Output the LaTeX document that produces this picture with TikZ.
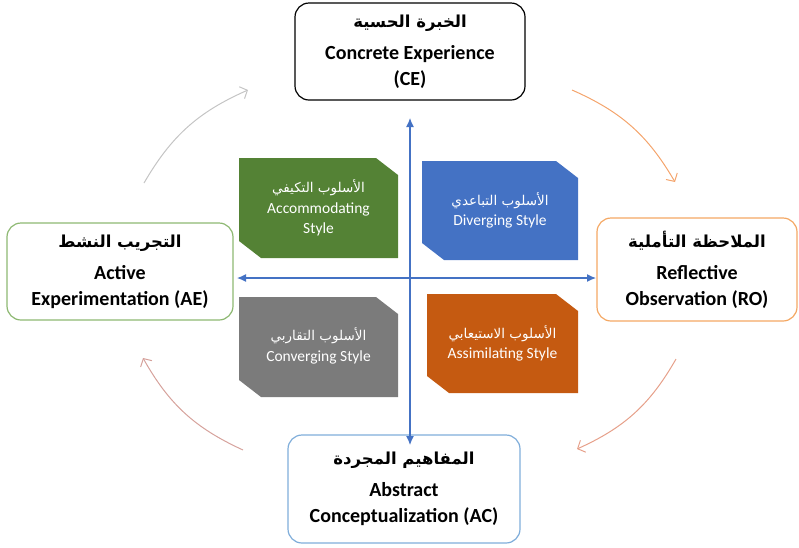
\documentclass[tikz,border=0pt]{standalone}
\usepackage{fontspec}
\setmainfont{Carlito}
\newfontfamily\arabicfont[Script=Arabic]{DejaVu Sans}
\TeXXeTstate=1
\usetikzlibrary{arrows.meta}
\definecolor{cAxis}{HTML}{4472C4}
\definecolor{cGreen}{HTML}{548235}
\definecolor{cBlue}{HTML}{4472C4}
\definecolor{cGray}{HTML}{7B7B7B}
\definecolor{cOrange}{HTML}{C55A11}
\definecolor{cAEline}{HTML}{8DB872}
\definecolor{cROline}{HTML}{F4A864}
\definecolor{cACline}{HTML}{7FADDA}
\definecolor{cArcA}{HTML}{C4C4C4}
\definecolor{cArcB}{HTML}{F4A46C}
\definecolor{cArcC}{HTML}{E6A08A}
\definecolor{cArcD}{HTML}{D6A29C}
\newcommand{\arb}[1]{{\arabicfont\beginR #1\endR}}
\newcommand{\arbtitle}[1]{{\fontsize{16.5}{22}\selectfont\arb{#1}}}
\newcommand{\arbsmall}[1]{{\fontsize{13.5}{20}\selectfont\arb{#1}}}
\newcommand{\snipquad}[5]{%
  \fill[#1] (#2,#3) -- ({#4-22},#3) -- (#4,{#3+17}) -- (#4,#5)
    -- ({#2+22},#5) -- (#2,{#5-17}) -- cycle;}
\tikzset{stagebox/.style={
  shape=rectangle,
  rounded corners=14pt,
  line width=1.2pt,
  align=center,
  font=\bfseries\fontsize{20}{26}\selectfont,
  text=black,
  }
}
\tikzset{stylelabel/.style={
  align=center,
  font=\fontsize{15.5}{20.5}\selectfont,
  text=white,
  }
}
\tikzset{axis/.style={
  draw=cAxis,
  line width=1.2pt,
  {Latex[length=9pt,width=8pt]}-{Latex[length=9pt,width=8pt]},
  }
}
\tikzset{cyclearrow/.style={
  line width=1pt,
  -{Straight Barb[length=6pt,width=13pt]},
  bend left=18,
  }
}

\begin{document}
\begin{tikzpicture}[x=1pt,y=-1pt]
  \useasboundingbox (0,0) rectangle (799,547);

  % four learning styles
  \snipquad{cGreen}{239}{158}{398}{258}
  \snipquad{cBlue}{422}{161}{578}{260}
  \snipquad{cGray}{239}{297}{398}{397}
  \snipquad{cOrange}{427}{294}{578}{393}
  \node[stylelabel] (acc) at (318.5,208) {\arbsmall{الأسلوب التكيفي}\\Accommodating\\Style};
  \node[stylelabel] (div) at (500,210.5) {\arbsmall{الأسلوب التباعدي}\\Diverging Style};
  \node[stylelabel] (con) at (318.5,346) {\arbsmall{الأسلوب التقاربي}\\Converging Style};
  \node[stylelabel] (ass) at (502.5,343.5) {\arbsmall{الأسلوب الاستيعابي}\\Assimilating Style};

  % four stages
  \node[stagebox, draw=black, minimum width=230pt, minimum height=97pt] (CE) at (410,51.5)
    {\arbtitle{الخبرة الحسية}\\[6pt] Concrete Experience\\ (CE)};
  \node[stagebox, draw=cAEline, minimum width=226pt, minimum height=97pt] (AE) at (120,271.5)
    {\arbtitle{التجريب النشط}\\[6pt] Active\\ Experimentation (AE)};
  \node[stagebox, draw=cROline, minimum width=200pt, minimum height=103pt] (RO) at (697,269.5)
    {\arbtitle{الملاحظة التأملية}\\[6pt] Reflective\\ Observation (RO)};
  \node[stagebox, draw=cACline, minimum width=232pt, minimum height=108pt] (AC) at (404,489)
    {\arbtitle{المفاهيم المجردة}\\[6pt] Abstract\\ Conceptualization (AC)};

  % axes
  \coordinate (vtop) at (410,118);
  \coordinate (vbot) at (410,445);
  \coordinate (hleft) at (237,278);
  \coordinate (hright) at (596,278);
  \draw[axis] (vbot) -- (vtop);
  \draw[axis] (hleft) -- (hright);

  % cycle
  \coordinate (a1) at (144,183);
  \coordinate (a2) at (248,90);
  \coordinate (b1) at (572,90);
  \coordinate (b2) at (675,182);
  \coordinate (c1) at (676,359);
  \coordinate (c2) at (577,449);
  \coordinate (d1) at (243,450);
  \coordinate (d2) at (143,358);
  \draw[cyclearrow, draw=cArcA] (a1) to (a2);
  \draw[cyclearrow, draw=cArcB] (b1) to (b2);
  \draw[cyclearrow, draw=cArcC] (c1) to (c2);
  \draw[cyclearrow, draw=cArcD] (d1) to (d2);
\end{tikzpicture}
\end{document}
